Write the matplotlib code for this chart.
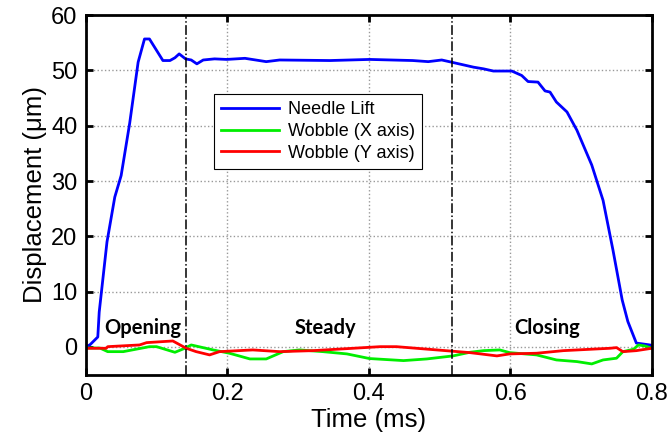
import numpy as np
import matplotlib
matplotlib.use("Agg")
import matplotlib.pyplot as plt

# needle lift (um) vs time (ms)
t_lift = [0.0, 0.006, 0.017, 0.019, 0.030, 0.041, 0.050, 0.062, 0.074, 0.083, 0.090,
          0.109, 0.119, 0.126, 0.132, 0.141, 0.149, 0.157, 0.166, 0.182, 0.199,
          0.225, 0.255, 0.274, 0.345, 0.401, 0.462, 0.484, 0.503, 0.517, 0.548,
          0.562, 0.576, 0.602, 0.616, 0.625, 0.639, 0.649, 0.656, 0.665, 0.680,
          0.694, 0.715, 0.731, 0.745, 0.758, 0.766, 0.778, 0.795, 0.800]
lift = [0.0, 0.4, 1.8, 6.3, 19.0, 27.1, 31.0, 40.4, 51.5, 55.7, 55.7,
        51.8, 51.8, 52.3, 53.0, 52.1, 51.9, 51.2, 51.9, 52.1, 52.0,
        52.2, 51.6, 51.9, 51.8, 52.0, 51.8, 51.6, 51.9, 51.5, 50.6,
        50.3, 49.9, 49.9, 49.1, 48.0, 47.9, 46.3, 46.1, 44.3, 42.5,
        39.2, 32.9, 26.5, 17.5, 8.5, 4.6, 0.7, 0.4, 0.3]

# wobble X axis
t_wx = [0.001, 0.020, 0.031, 0.053, 0.090, 0.100, 0.126, 0.140, 0.149, 0.180,
        0.203, 0.232, 0.255, 0.279, 0.302, 0.335, 0.369, 0.401, 0.449, 0.482,
        0.519, 0.543, 0.562, 0.585, 0.599, 0.637, 0.665, 0.694, 0.715, 0.731,
        0.750, 0.759, 0.774, 0.781, 0.790, 0.800]
wx = [-0.2, -0.2, -0.85, -0.85, 0.05, 0.05, -0.97, -0.24, 0.36, -0.54,
      -1.14, -2.17, -2.17, -0.85, -0.54, -0.85, -1.26, -2.1, -2.47, -2.17,
      -1.62, -0.96, -0.67, -0.54, -1.03, -1.44, -2.35, -2.65, -3.07, -2.35,
      -2.04, -0.85, -0.42, 0.36, 0.18, -0.24]

# wobble Y axis
t_wy = [0.001, 0.029, 0.031, 0.076, 0.086, 0.123, 0.142, 0.156, 0.175, 0.189,
        0.236, 0.274, 0.321, 0.378, 0.416, 0.439, 0.496, 0.543, 0.581, 0.599,
        0.637, 0.675, 0.741, 0.750, 0.759, 0.778, 0.800]
wy = [-0.24, -0.24, 0.05, 0.36, 0.78, 1.08, -0.24, -0.85, -1.44, -0.85,
      -0.54, -0.85, -0.67, -0.24, 0.05, 0.05, -0.54, -1.03, -1.62, -1.26,
      -1.14, -0.67, -0.24, -0.12, -0.85, -0.67, -0.24]

phase_bounds = [0.141, 0.517]
phase_names = ["Opening", "Steady", "Closing"]
phase_x = [0.081, 0.338, 0.652]

fig = plt.figure(figsize=(6.7, 4.47), dpi=100)
ax = fig.add_axes([0.128, 0.162, 0.845, 0.804])

ax.plot(t_lift, lift, color="#0000ff", lw=2, label="Needle Lift")
ax.plot(t_wx, wx, color="#00ee00", lw=2, label="Wobble (X axis)")
ax.plot(t_wy, wy, color="#ff0000", lw=2, label="Wobble (Y axis)")

for xb in phase_bounds:
    ax.axvline(xb, color="black", lw=1.1, ls="-.")
for name, xp in zip(phase_names, phase_x):
    ax.text(xp, 3.4, name, ha="center", va="center", fontsize=14.5,
            fontweight="bold", family="Lato")

ax.set_xlim(0, 0.8)
ax.set_ylim(-5, 60)
ax.set_xticks([0, 0.2, 0.4, 0.6, 0.8])
ax.set_xticklabels(["0", "0.2", "0.4", "0.6", "0.8"])
ax.set_yticks([0, 10, 20, 30, 40, 50, 60])
ax.grid(True, color="#999999", ls=":", lw=1)
ax.tick_params(direction="in", top=True, right=True, length=5, width=2,
               labelsize=17, pad=6)
for lbl in ax.get_xticklabels() + ax.get_yticklabels():
    lbl.set_family("Liberation Sans")
for sp in ax.spines.values():
    sp.set_linewidth(2)

ax.set_xlabel("Time (ms)", fontsize=18.5, family="Liberation Sans", labelpad=2)
ax.set_ylabel("Displacement (\u03bcm)", fontsize=18.5, family="Liberation Sans", labelpad=3)

leg = ax.legend(loc="upper left", bbox_to_anchor=(0.226, 0.78), fancybox=False,
                edgecolor="black", framealpha=1, borderaxespad=0,
                prop={"family": "Liberation Sans", "size": 13},
                handlelength=3.2, labelspacing=0.25, borderpad=0.4,
                handletextpad=0.5)
leg.get_frame().set_linewidth(0.8)

fig.savefig("out.png", dpi=100)
